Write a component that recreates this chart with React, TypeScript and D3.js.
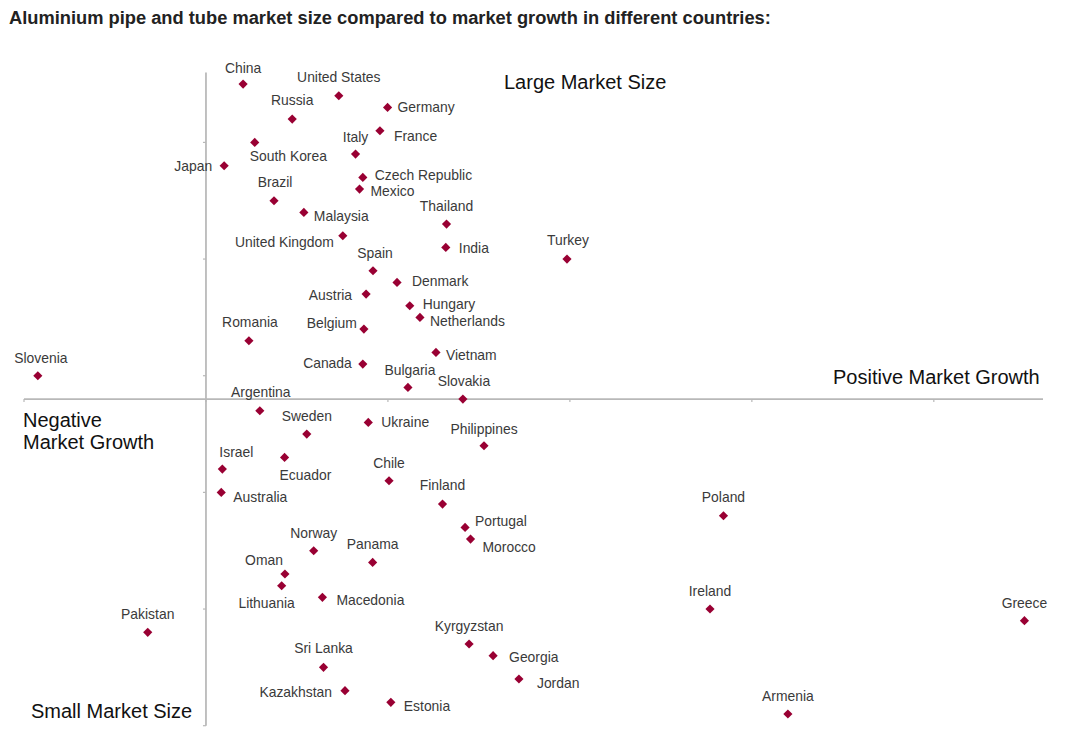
import React from 'react';
import * as d3 from 'd3';

// countries in order of market size rank (1 = smallest)
const COUNTRIES = [
  "Armenia", "Estonia", "Kazakhstan", "Jordan", "Sri Lanka", "Georgia", "Kyrgyzstan", "Pakistan",
  "Greece", "Ireland", "Macedonia", "Lithuania", "Oman", "Panama", "Norway", "Morocco", "Portugal",
  "Poland", "Finland", "Australia", "Chile", "Israel", "Ecuador", "Philippines", "Sweden", "Ukraine",
  "Argentina", "Slovakia", "Bulgaria", "Slovenia", "Canada", "Vietnam", "Romania", "Belgium",
  "Netherlands", "Hungary", "Austria", "Denmark", "Spain", "Turkey", "India", "United Kingdom",
  "Thailand", "Malaysia", "Brazil", "Mexico", "Czech Republic", "Japan", "Italy", "South Korea",
  "France", "Russia", "Germany", "United States", "China"
];

const GROWTH = [
  15.99, 5.08, 3.82, 8.6, 3.23, 7.89, 7.23, -1.6,
  22.49, 13.85, 3.2, 2.08, 2.17, 4.58, 2.96, 7.27, 7.12,
  14.22, 6.5, 0.42, 5.03, 0.45, 2.16, 7.64, 2.77, 4.46,
  1.48, 7.06, 5.55, -4.62, 4.31, 6.32, 1.18, 4.34,
  5.88, 5.6, 4.4, 5.25, 4.59, 9.92, 6.59, 3.76,
  6.61, 2.69, 1.87, 4.22, 4.31, 0.5, 4.11, 1.34,
  4.78, 2.37, 4.99, 3.65, 1.02
];

const SIZE_RANK = COUNTRIES.map((_, i) => i + 1);

const X_TICKS = [-5, 0, 5, 10, 15, 20];
const Y_TICKS = [0, 10, 20, 30, 40, 50];

// label placement relative to each marker: [dx, dy, anchor]
const LABEL_OFFSET: Record<string, [number, number, string]> = {
  "China": [0, -16, "middle"], "United States": [0, -19, "middle"], "Russia": [0, -19, "middle"],
  "Germany": [10, 0, "start"], "France": [14, 5, "start"], "Italy": [0, -17, "middle"],
  "South Korea": [-5, 14, "start"], "Japan": [-12, 0, "end"], "Czech Republic": [12, -2, "start"],
  "Mexico": [11, 2, "start"], "Brazil": [1, -19, "middle"], "Malaysia": [10, 4, "start"],
  "Thailand": [0, -18, "middle"], "United Kingdom": [-9, 6, "end"], "India": [13, 1, "start"],
  "Turkey": [1, -19, "middle"], "Spain": [2, -18, "middle"], "Denmark": [15, -1, "start"],
  "Austria": [-14, 1, "end"], "Hungary": [13, -2, "start"], "Netherlands": [10, 4, "start"],
  "Belgium": [-7, -6, "end"], "Romania": [1, -19, "middle"], "Vietnam": [10, 3, "start"],
  "Canada": [-11, -1, "end"], "Bulgaria": [2, -17, "middle"], "Slovakia": [1, -18, "middle"],
  "Slovenia": [3, -18, "middle"], "Argentina": [1, -19, "middle"], "Sweden": [0, -18, "middle"],
  "Ukraine": [13, 0, "start"], "Philippines": [0, -17, "middle"], "Israel": [-3, -17, "start"],
  "Ecuador": [-5, 18, "start"], "Chile": [0, -18, "middle"], "Australia": [12, 5, "start"],
  "Finland": [0, -19, "middle"], "Portugal": [10, -6, "start"], "Morocco": [12, 8, "start"],
  "Norway": [0, -18, "middle"], "Panama": [0, -18, "middle"], "Oman": [-2, -14, "end"],
  "Lithuania": [-15, 17, "middle"], "Macedonia": [14, 3, "start"], "Pakistan": [0, -18, "middle"],
  "Kyrgyzstan": [0, -18, "middle"], "Georgia": [16, 1, "start"], "Jordan": [18, 4, "start"],
  "Sri Lanka": [0, -19, "middle"], "Kazakhstan": [-13, 1, "end"], "Estonia": [13, 4, "start"],
  "Poland": [0, -19, "middle"], "Ireland": [0, -18, "middle"], "Greece": [0, -18, "middle"],
  "Armenia": [0, -18, "middle"]
};

const WIDTH = 1071;
const HEIGHT = 741;
const FONT = "'Liberation Sans', Arial, sans-serif";
const MARKER = "#990033";
const AXIS = "#b8b8b8";

export default function App() {
  const x = d3.scaleLinear().domain([-5, 23]).range([24, 1043]);
  const y = d3.scaleLinear().domain([0, 56]).range([725.7, 72.4]);
  const xAxisAt = 28; // growth axis crosses size axis at rank 28

  const diamond = d3.symbol().type(d3.symbolSquare).size(42)() as string;

  return (
    <svg width={WIDTH} height={HEIGHT} style={{ position: 'absolute', left: 0, top: 0, background: '#fff' }}
      fontFamily={FONT}>
      <text x={9} y={17} dominantBaseline="central" fontSize={18.3} fontWeight="bold" fill="#222">
        Aluminium pipe and tube market size compared to market growth in different countries:
      </text>

      {/* axes */}
      <line x1={x(0)} x2={x(0)} y1={y(0)} y2={y(56)} stroke={AXIS} strokeWidth={1.75} />
      {Y_TICKS.map(t => (
        <line key={'yt' + t} x1={x(0) - 3} x2={x(0)} y1={y(t)} y2={y(t)} stroke={AXIS} strokeWidth={1.2} />
      ))}
      <line x1={x(-5)} x2={x(23)} y1={y(xAxisAt)} y2={y(xAxisAt)} stroke={AXIS} strokeWidth={1.75} />
      {X_TICKS.map(t => (
        <line key={'xt' + t} x1={x(t)} x2={x(t)} y1={y(xAxisAt)} y2={y(xAxisAt) + 3} stroke={AXIS} strokeWidth={1.2} />
      ))}

      {/* quadrant captions */}
      <g fontSize={20} fill="#111">
        <text x={504} y={82} dominantBaseline="central">Large Market Size</text>
        <text x={833} y={377} dominantBaseline="central">Positive Market Growth</text>
        <text x={23} y={420} dominantBaseline="central">Negative</text>
        <text x={23} y={442} dominantBaseline="central">Market Growth</text>
        <text x={31} y={711} dominantBaseline="central">Small Market Size</text>
      </g>

      {/* points */}
      {COUNTRIES.map((c, i) => {
        const px = x(GROWTH[i]);
        const py = y(SIZE_RANK[i]);
        const [dx, dy, anchor] = LABEL_OFFSET[c] || [0, -18, 'middle'];
        return (
          <g key={c}>
            <path d={diamond} transform={`translate(${px},${py}) rotate(45)`} fill={MARKER} />
            <text x={px + dx} y={py + dy} textAnchor={anchor} dominantBaseline="central"
              fontSize={13.9} fill="#3a3a3a">{c}</text>
          </g>
        );
      })}
    </svg>
  );
}
